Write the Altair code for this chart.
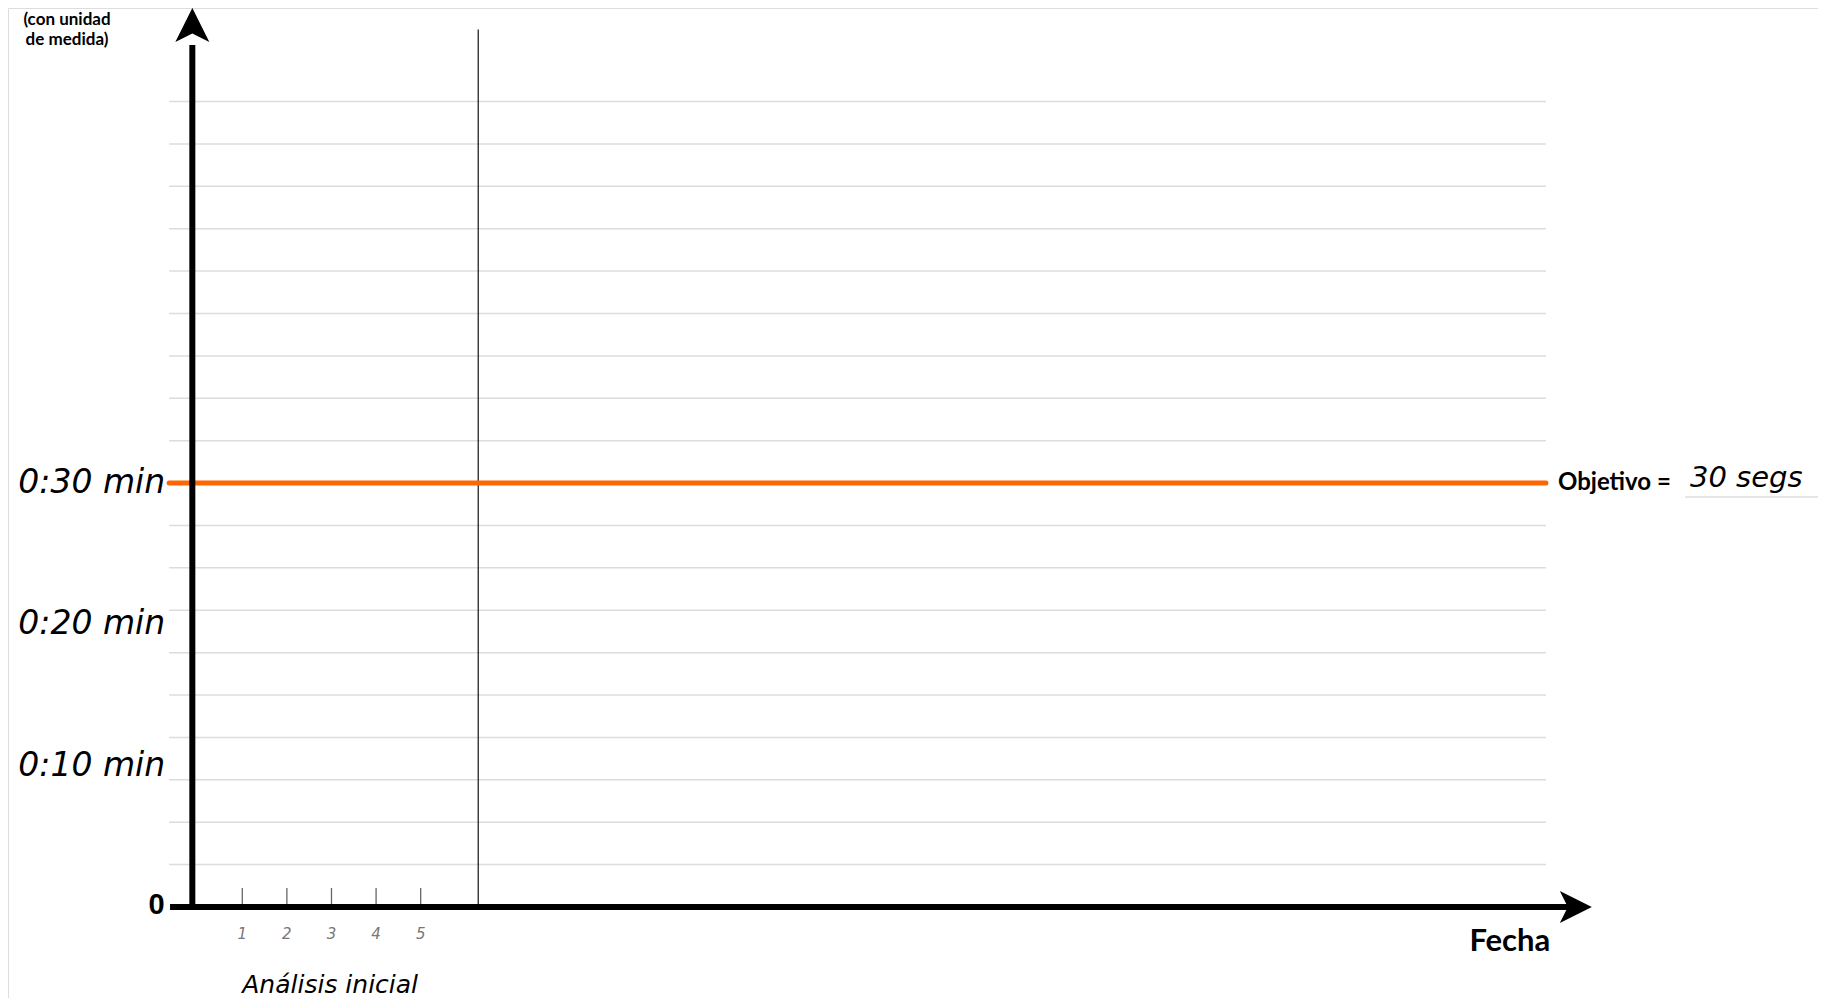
import altair as alt
import pandas as pd

# ---- data ----
grid_seconds = [3, 6, 9, 12, 15, 18, 21, 24, 27, 33, 36, 39, 42, 45, 48, 51, 54, 57]
y_label_values = [10, 20, 30]
y_label_texts = ["0:10 min", "0:20 min", "0:30 min"]
session_ticks = [1, 2, 3, 4, 5]
session_labels = ["1", "2", "3", "4", "5"]
target_seconds = 30
target_text = "30 segs"

# ---- layout (scale frame in data units) ----
W, H = 1810, 990
X_DOMAIN = [-4.253, 36.33]
Y_DOMAIN = [-6.44, 63.62]
GRID_X = [-0.64, 30.23]
AXIS_X = -0.12          # position of the vertical axis line
DIVIDER_X = 6.29

xs = alt.Scale(domain=X_DOMAIN, nice=False, zero=False)
ys = alt.Scale(domain=Y_DOMAIN, nice=False, zero=False)


def X(f="x"):
    return alt.X(f"{f}:Q", scale=xs, axis=None)


def Y(f="y"):
    return alt.Y(f"{f}:Q", scale=ys, axis=None)


grid_df = pd.DataFrame({"y": grid_seconds, "x": GRID_X[0], "x2": GRID_X[1]})
grid = alt.Chart(grid_df).mark_rule(color="#dcdcdc", strokeWidth=1.5).encode(
    x=X(), x2="x2:Q", y=Y())

target_df = pd.DataFrame({"y": [target_seconds], "x": [GRID_X[0]], "x2": [GRID_X[1]]})
target = alt.Chart(target_df).mark_rule(color="#ff6600", strokeWidth=5, strokeCap="round").encode(
    x=X(), x2="x2:Q", y=Y())

divider_df = pd.DataFrame({"x": [DIVIDER_X], "y": [0], "y2": [62.1]})
divider = alt.Chart(divider_df).mark_rule(color="#111111", strokeWidth=1.2).encode(
    x=X(), y=Y(), y2="y2:Q")

ticks_df = pd.DataFrame({"x": session_ticks, "y": 0, "y2": 1.34})
ticks = alt.Chart(ticks_df).mark_rule(color="#666666", strokeWidth=1.3).encode(
    x=X(), y=Y(), y2="y2:Q")

tick_lab_df = pd.DataFrame({"x": session_ticks, "y": -1.91, "t": session_labels})
tick_labels = alt.Chart(tick_lab_df).mark_text(
    font="DejaVu Sans", fontStyle="italic", fontSize=15, color="#777777",
    align="center", baseline="middle").encode(x=X(), y=Y(), text="t:N")

yaxis_df = pd.DataFrame({"x": [AXIS_X], "y": [-0.2], "y2": [61.0]})
yaxis = alt.Chart(yaxis_df).mark_rule(color="black", strokeWidth=6).encode(
    x=X(), y=Y(), y2="y2:Q")

xaxis_df = pd.DataFrame({"x": [-0.62], "x2": [30.9], "y": [0]})
xaxis = alt.Chart(xaxis_df).mark_rule(color="black", strokeWidth=6).encode(
    x=X(), x2="x2:Q", y=Y())

up_arrow = "M0,-1 L1,1 L0,0.5 L-1,1 Z"
right_arrow = "M1,0 L-1,-1 L-0.5,0 L-1,1 Z"
yhead = alt.Chart(pd.DataFrame({"x": [AXIS_X], "y": [62.42]})).mark_point(
    shape=up_arrow, filled=True, size=34 * 34, color="black", opacity=1).encode(x=X(), y=Y())
xhead = alt.Chart(pd.DataFrame({"x": [30.9], "y": [0]})).mark_point(
    shape=right_arrow, filled=True, size=32 * 32, color="black", opacity=1).encode(x=X(), y=Y())

ylab_df = pd.DataFrame({"x": -0.73, "y": y_label_values, "t": y_label_texts})
ylabels = alt.Chart(ylab_df).mark_text(
    font="DejaVu Sans", fontStyle="italic", fontSize=33, color="black",
    align="right", baseline="middle").encode(x=X(), y=Y(), text="t:N")

zero = alt.Chart(pd.DataFrame({"x": [-0.92], "y": [0.14], "t": ["0"]})).mark_text(
    font="Liberation Sans", fontWeight="bold", fontSize=29, color="black",
    align="center", baseline="middle").encode(x=X(), y=Y(), text="t:N")

objetivo = alt.Chart(pd.DataFrame({"x": [30.5], "y": [30], "t": ["Objetivo ="]})).mark_text(
    font="Lato", fontWeight="bold", fontSize=24, color="black",
    align="left", baseline="middle").encode(x=X(), y=Y(), text="t:N")

target_lab = alt.Chart(pd.DataFrame({"x": [33.46], "y": [30.36], "t": [target_text]})).mark_text(
    font="DejaVu Sans", fontStyle="italic", fontSize=29, color="black",
    align="left", baseline="middle").encode(x=X(), y=Y(), text="t:N")

underline = alt.Chart(pd.DataFrame({"x": [33.35], "x2": [36.33], "y": [29.02]})).mark_rule(
    color="#dddddd", strokeWidth=1.5).encode(x=X(), x2="x2:Q", y=Y())

fecha = alt.Chart(pd.DataFrame({"x": [29.42], "y": [-2.48], "t": ["Fecha"]})).mark_text(
    font="Lato", fontWeight="bold", fontSize=31, color="black",
    align="center", baseline="middle").encode(x=X(), y=Y(), text="t:N")

analisis = alt.Chart(pd.DataFrame({"x": [2.97], "y": [-5.5], "t": ["Análisis inicial"]})).mark_text(
    font="DejaVu Sans", fontStyle="italic", fontSize=25, color="black",
    align="center", baseline="middle").encode(x=X(), y=Y(), text="t:N")

unit_df = pd.DataFrame({"x": [-2.93, -2.93], "y": [62.77, 61.36], "t": ["(con unidad", "de medida)"]})
unit = alt.Chart(unit_df).mark_text(
    font="Lato", fontWeight="bold", fontSize=17, color="black",
    align="center", baseline="middle").encode(x=X(), y=Y(), text="t:N")

chart = alt.layer(
    grid, divider, ticks, tick_labels, target, yaxis, xaxis, yhead, xhead,
    ylabels, zero, objetivo, target_lab, underline, fecha, analisis, unit
).properties(
    width=W, height=H,
    autosize=alt.AutoSizeParams(type="none"),
    padding={"left": 0, "right": 0, "top": 0, "bottom": 0},
).configure_view(strokeWidth=0, strokeOpacity=0).configure(background="white")

chart.save("out.html", embed_options={"renderer": "svg", "actions": False})
